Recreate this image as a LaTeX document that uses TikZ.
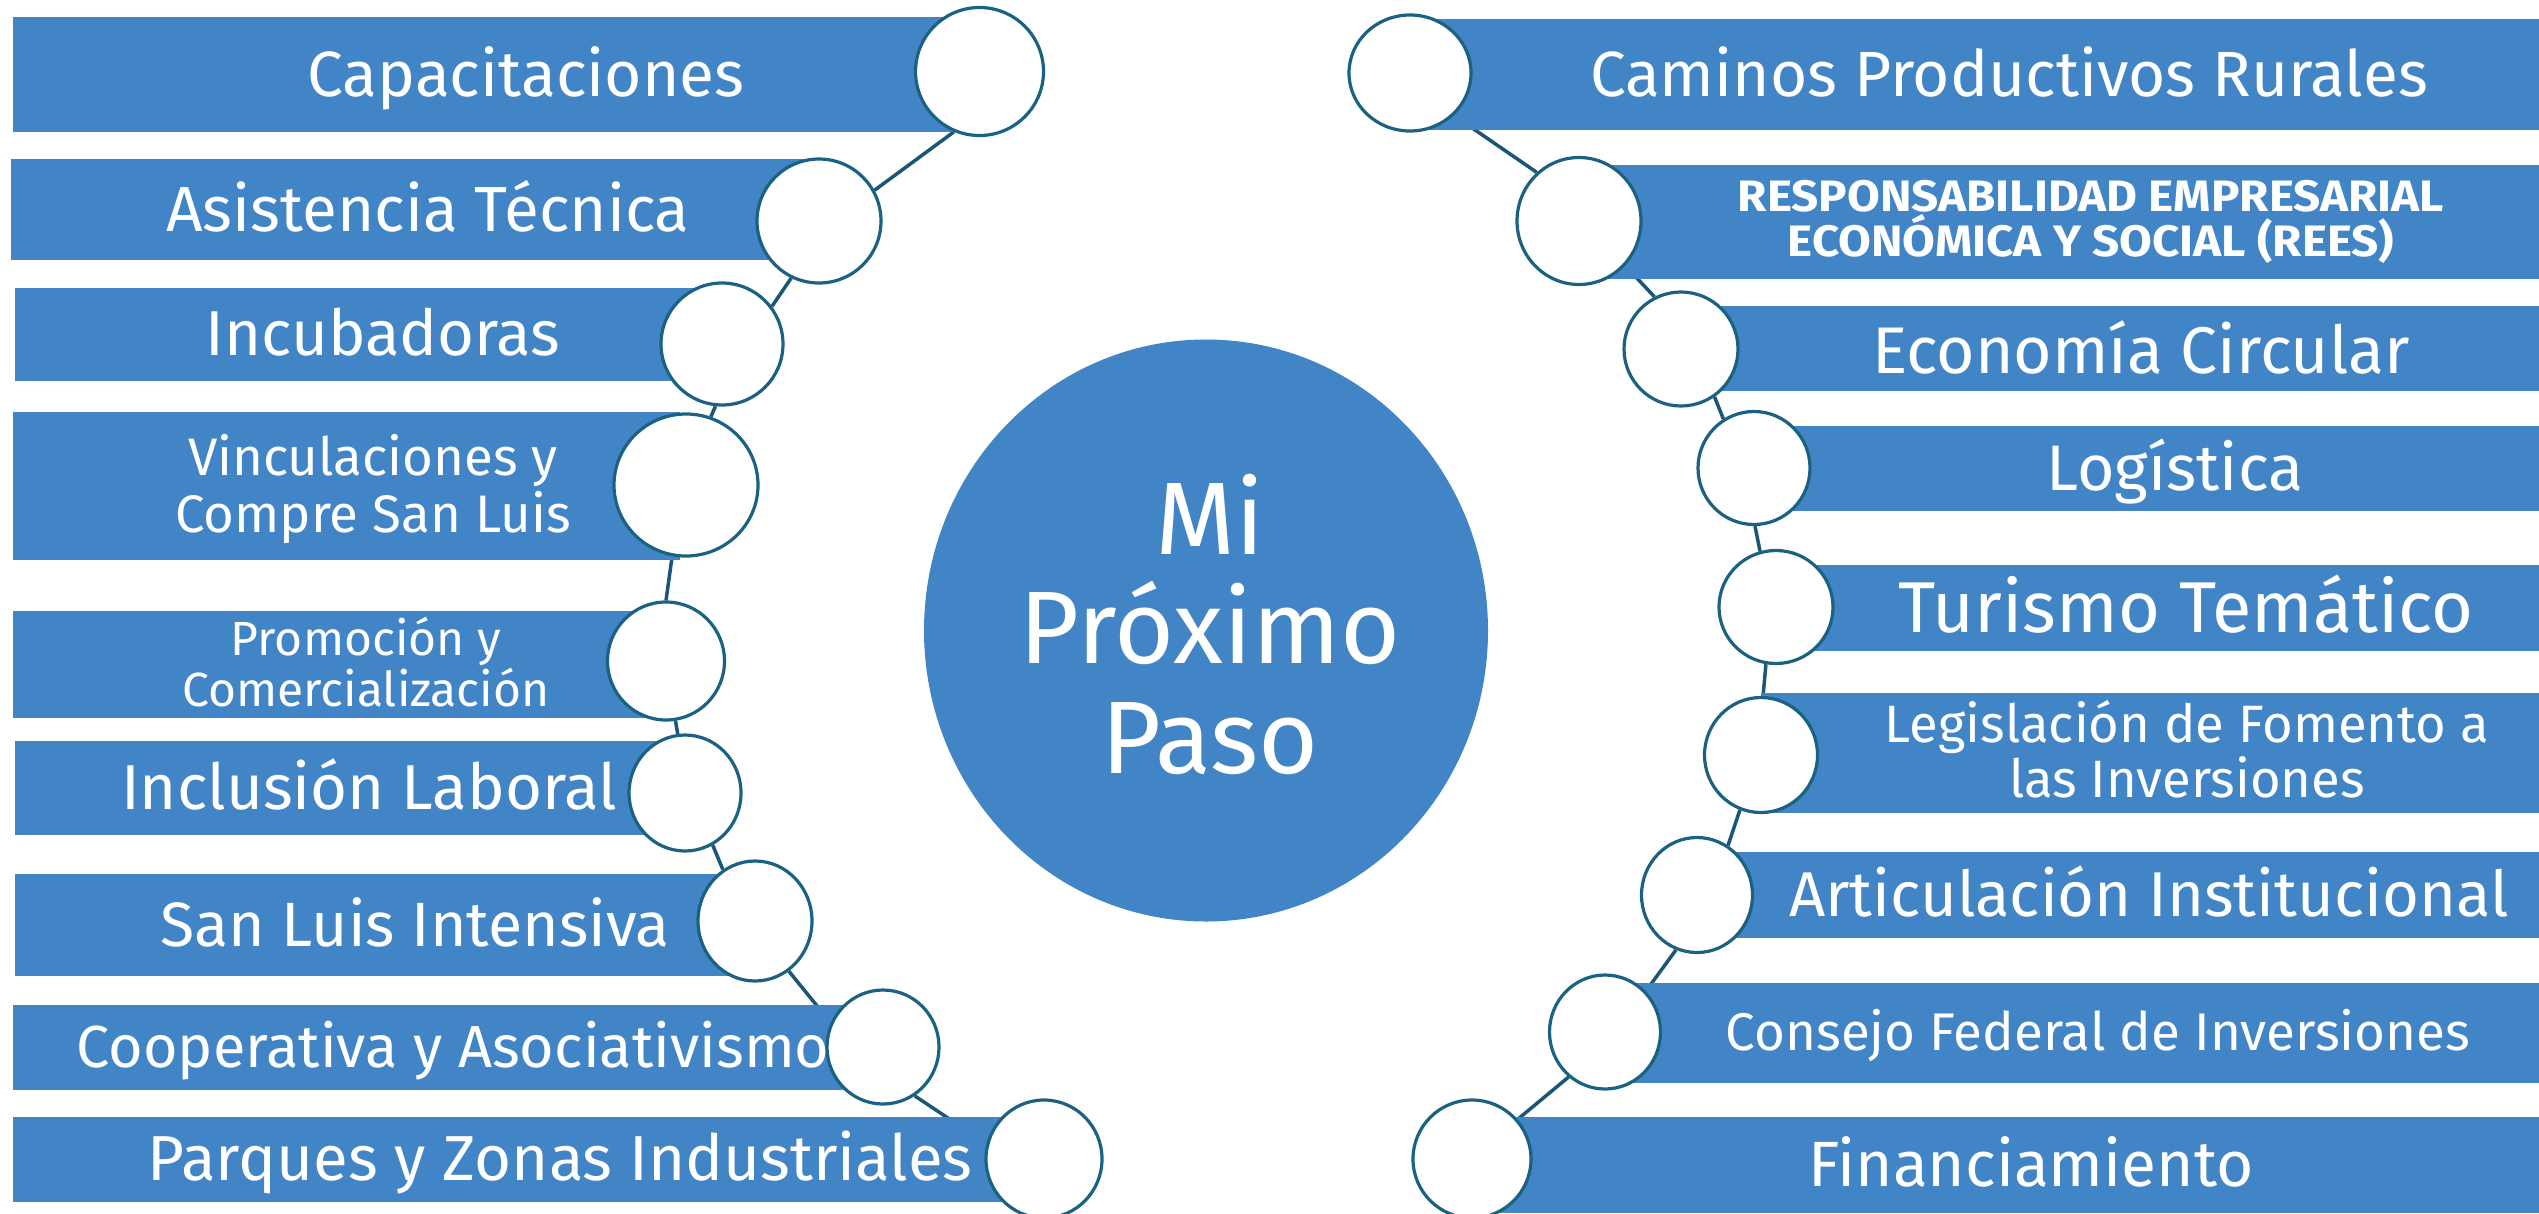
\documentclass[tikz,border=0pt]{standalone}
\usepackage{fontspec}
\setmainfont{Fira Sans}
\newfontfamily\reesfont{Fira Sans}[FakeStretch=1.08]
\usetikzlibrary{shapes.geometric}
\definecolor{barblue}{HTML}{4285C6}
\definecolor{ringc}{HTML}{1B6282}
\definecolor{connc}{HTML}{1A5675}
\pgfdeclarelayer{connlayer}
\pgfdeclarelayer{barlayer}
\pgfsetlayers{connlayer,barlayer,main}
\newcommand\fsz[2]{\fontsize{#1}{#2}\selectfont}
\tikzset{
  ring/.style={ellipse, draw=ringc, line width=3.2pt, fill=white, inner sep=0pt},
  hub/.style={ellipse, fill=barblue, inner sep=0pt},
  lbl/.style={text=white, anchor=base, inner sep=0pt, align=center},
  conn/.style={draw=connc, line width=3.5pt},
  barfill/.style={fill=barblue},
}
\begin{document}
\begin{tikzpicture}[x=1pt,y=-1pt]
\useasboundingbox (0,0) rectangle (2539,1213);
% circles left
\node[ring, minimum width=128pt, minimum height=128pt] (L1) at (979.5,71.5) {};
\node[ring, minimum width=124pt, minimum height=124pt] (L2) at (819,221) {};
\node[ring, minimum width=122pt, minimum height=122pt] (L3) at (722,344) {};
\node[ring, minimum width=144pt, minimum height=142pt] (L4) at (686,485) {};
\node[ring, minimum width=117pt, minimum height=118pt] (L5) at (666,661) {};
\node[ring, minimum width=112pt, minimum height=116pt] (L6) at (685,793) {};
\node[ring, minimum width=114pt, minimum height=120pt] (L7) at (755,921) {};
\node[ring, minimum width=112pt, minimum height=114pt] (L8) at (883,1047) {};
\node[ring, minimum width=116pt, minimum height=118pt] (L9) at (1044,1159) {};
% circles right
\node[ring, minimum width=122pt, minimum height=116pt] (R1) at (1410,73) {};
\node[ring, minimum width=124pt, minimum height=127pt] (R2) at (1579,221) {};
\node[ring, minimum width=114pt, minimum height=114pt] (R3) at (1681,349) {};
\node[ring, minimum width=112pt, minimum height=113pt] (R4) at (1754,468) {};
\node[ring, minimum width=114pt, minimum height=113pt] (R5) at (1776,607) {};
\node[ring, minimum width=113pt, minimum height=115pt] (R6) at (1761,755) {};
\node[ring, minimum width=111pt, minimum height=115pt] (R7) at (1697,895) {};
\node[ring, minimum width=111pt, minimum height=114pt] (R8) at (1605,1032) {};
\node[ring, minimum width=118pt, minimum height=118pt] (R9) at (1472,1159) {};
% hub
\node[hub, minimum width=564pt, minimum height=582pt] (hub) at (1206,630.5) {};
\node[lbl, font=\fsz{103}{109.5}] (hubtxt) at (1210,773) {Mi\\Próximo\\Paso};
% bars
\begin{pgfonlayer}{barlayer}
\fill[barfill] (13,17) rectangle (979.5,132);
\fill[barfill] (11,159) rectangle (819,260);
\fill[barfill] (15,288) rectangle (722,381);
\fill[barfill] (13,412) rectangle (680,560);
\fill[barfill] (13,611) rectangle (666,718);
\fill[barfill] (15,741) rectangle (685,835);
\fill[barfill] (15,874) rectangle (755,976);
\fill[barfill] (13,1005) rectangle (883,1090);
\fill[barfill] (13,1117) rectangle (1044,1202);
\fill[barfill] (1410,19) rectangle (2539,130);
\fill[barfill] (1579,165) rectangle (2539,279);
\fill[barfill] (1681,306) rectangle (2539,391);
\fill[barfill] (1754,426) rectangle (2539,511);
\fill[barfill] (1776,565) rectangle (2539,651);
\fill[barfill] (1761,693) rectangle (2539,813);
\fill[barfill] (1697,852) rectangle (2539,938);
\fill[barfill] (1605,983) rectangle (2539,1083);
\fill[barfill] (1472,1117) rectangle (2539,1213);
\end{pgfonlayer}
% connectors
\begin{pgfonlayer}{connlayer}
\draw[conn] (L1.247) -- (L2.29);
\draw[conn] (L2.244) -- (L3.37);
\draw[conn] (L3.264) -- (L4.70);
\draw[conn] (L4.259) -- (L5.90);
\draw[conn] (L5.279) -- (L6.97);
\draw[conn] (L6.298) -- (L7.122);
\draw[conn] (L7.304) -- (L8.155);
\draw[conn] (L8.303) -- (L9.165);
\draw[conn] (R1.316) -- (R2.131);
\draw[conn] (R2.316) -- (R3.117);
\draw[conn] (R3.305) -- (R4.122);
\draw[conn] (R4.271) -- (R5.106);
\draw[conn] (R5.260) -- (R6.88);
\draw[conn] (R6.249) -- (R7.58);
\draw[conn] (R7.249) -- (R8.45);
\draw[conn] (R8.231) -- (R9.41);
\end{pgfonlayer}
% labels left
\node[lbl, font=\fsz{64}{64}] (tL1) at (526,96) {Capacitaciones};
\node[lbl, font=\fsz{63.8}{64}] (tL2) at (428,231) {Asistencia Técnica};
\node[lbl, font=\fsz{63.4}{64}] (tL3) at (383,355) {Incubadoras};
\node[lbl, font=\fsz{52.8}{57}] (tL4) at (373,532) {Vinculaciones y\\Compre San Luis};
\node[lbl, font=\fsz{48}{51}] (tL5) at (366,706) {Promoción y\\Comercialización};
\node[lbl, font=\fsz{63.5}{64}] (tL6) at (369,809) {Inclusión Laboral};
\node[lbl, font=\fsz{62.6}{64}] (tL7) at (415,946) {San Luis Intensiva};
\node[lbl, font=\fsz{59.4}{60}] (tL8) at (453,1067) {Cooperativa y Asociativismo};
\node[lbl, font=\fsz{63.6}{64}] (tL9) at (560,1180) {Parques y Zonas Industriales};
% labels right
\node[lbl, font=\fsz{63.9}{64}] (tR1) at (2009,96) {Caminos Productivos Rurales};
\node[lbl, font=\reesfont\bfseries\fsz{44}{45}] (tR2) at (2091,256) {RESPONSABILIDAD EMPRESARIAL\\ECONÓMICA Y SOCIAL (REES)};
\node[lbl, font=\fsz{66}{66}] (tR3) at (2141,373) {Economía Circular};
\node[lbl, font=\fsz{64.4}{64}] (tR4) at (2175,490) {Logística};
\node[lbl, font=\fsz{72}{72}] (tR5) at (2186,632) {Turismo Temático};
\node[lbl, font=\fsz{52.6}{55}] (tR6) at (2187,797) {Legislación de Fomento a\\las Inversiones};
\node[lbl, font=\fsz{63.3}{64}] (tR7) at (2149,916) {Articulación Institucional};
\node[lbl, font=\fsz{53}{54}] (tR8) at (2098,1050) {Consejo Federal de Inversiones};
\node[lbl, font=\fsz{64}{64}] (tR9) at (2031,1186) {Financiamiento};
\end{tikzpicture}
\end{document}
